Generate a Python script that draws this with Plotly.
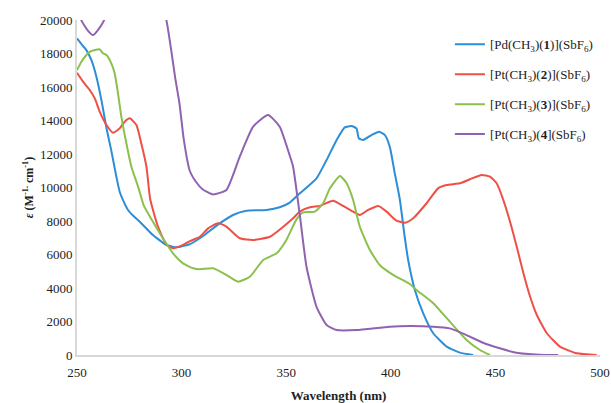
import plotly.graph_objects as go

# Wavelength (nm) / molar absorptivity values
pd1_wl = [250, 252.5, 254.5, 256.9, 259.3, 261.7, 264, 266.4, 268.8, 270.4, 272, 274.4, 277, 280, 286.3,
          292.8, 297.5, 300.5, 303.9, 308.7, 311.9, 318.2, 324.6, 331, 340.6, 346.9, 351.7, 356.5,
          364.5, 369.3, 374.1, 378, 381.2, 383.6, 384.7, 386.8, 390.8, 394.4, 397.2, 399.5, 401.9,
          404.3, 406.7, 408.3, 411.5, 415.5, 420.3, 426.7, 433, 439.4]
pd1_eps = [18900, 18500, 18200, 17600, 16600, 15200, 13600, 12200, 10650, 9750, 9250, 8660, 8300, 7960, 7160,
           6570, 6430, 6500, 6610, 6970, 7260, 7860, 8360, 8610, 8660, 8820, 9100, 9650,
           10550, 11640, 12840, 13590, 13670, 13530, 12940, 12840, 13130, 13330, 13130, 12440, 10850,
           9300, 7000, 5670, 3880, 2490, 1300, 500, 140, 0]

pt2_wl = [250, 252.9, 256.1, 258.5, 260.9, 264.1, 267.2, 270.4, 272.8, 275.2, 278.4, 280.8, 283.2, 285,
          288.7, 292.8, 295.9, 300.7, 304, 308.7, 312.7, 317.4, 321.4, 327.8, 334.2, 342.2, 348.6,
          353.3, 356.5, 361.3, 366.1, 372.4, 377.2, 382, 385.2, 389.2, 394, 398, 402.7, 407, 410.7,
          417.1, 422.6, 426.7, 433, 437.8, 443.4, 447.4, 450.6, 453.8, 457, 460.2, 463.4, 466.6,
          469.8, 474.6, 480.9, 488.9, 498.4]
pt2_eps = [16850, 16320, 15820, 15320, 14520, 13730, 13270, 13530, 13930, 14130, 13730, 12600, 11240, 9300,
           7660, 6570, 6370, 6570, 6800, 7060, 7560, 7860, 7660, 6970, 6870, 7060, 7660,
           8160, 8560, 8820, 8900, 9210, 8900, 8560, 8360, 8660, 8900, 8560, 8020, 7900, 8160,
           9060, 9950, 10150, 10250, 10490, 10750, 10650, 10250, 9250, 7960, 6470, 4880, 3480,
           2390, 1300, 500, 100, 0]

pt3_wl = [250, 252.1, 254.5, 256.1, 258.5, 260.9, 262.4, 264.1, 266.4, 268, 269.6, 271.2, 273.6, 276,
          279.2, 282, 286.3, 291.1, 295.9, 300.7, 305.5, 308.7, 315, 321.4, 327, 332.6, 339, 345.4,
          350.1, 354.9, 358.1, 363.7, 367.7, 370.9, 375.7, 378.9, 382, 385.2, 390, 394.7, 401.1,
          409.1, 412.3, 420.3, 428.2, 436.2, 442.6, 447.4]
pt3_eps = [17010, 17510, 17910, 18100, 18210, 18250, 18010, 17910, 17410, 16820, 15620, 14230, 12640, 11240,
           10050, 8900, 7960, 6970, 6070, 5470, 5180, 5120, 5180, 4780, 4380, 4670, 5670, 6070,
           6870, 8100, 8520, 8560, 9060, 9950, 10690, 10250, 9250, 7660, 6270, 5370, 4780,
           4240, 3880, 3090, 1990, 900, 300, 0]

pt4_wl = [250, 252, 255, 257.7, 260, 263, 268, 285, 292.7, 297, 299, 301, 303.9, 307.1, 310, 315, 321.4,
          327.8, 334.2, 341.3, 346.9, 351.7, 353.3, 356.5, 359.7, 364.5, 369.3, 374.1, 383.6, 399.5,
          409.1, 420.3, 428.2, 436.2, 444.1, 452.1, 460, 471, 480]
pt4_eps = [21500, 20000, 19400, 19100, 19400, 20000, 23000, 23000, 20000, 16500, 15000, 12900, 11000, 10300,
           9900, 9590, 9850, 11840, 13630, 14330, 13630, 11900, 11240, 8360, 5270, 2880, 1790, 1490,
           1490, 1690, 1730, 1690, 1590, 1190, 730, 400, 140, 20, 0]

names = ["[Pd(CH<sub>3</sub>)(<b>1</b>)](SbF<sub>6</sub>)",
         "[Pt(CH<sub>3</sub>)(<b>2</b>)](SbF<sub>6</sub>)",
         "[Pt(CH<sub>3</sub>)(<b>3</b>)](SbF<sub>6</sub>)",
         "[Pt(CH<sub>3</sub>)(<b>4</b>](SbF<sub>6</sub>)"]
colors = ["#2C8ED6", "#EE5046", "#8CC04C", "#8F63B0"]
x_ticks = [250, 300, 350, 400, 450, 500]
y_ticks = list(range(0, 20001, 2000))

series = [(pd1_wl, pd1_eps), (pt2_wl, pt2_eps), (pt3_wl, pt3_eps), (pt4_wl, pt4_eps)]

fig = go.Figure()
for i, ((xs, ys), nm, c) in enumerate(zip(series, names, colors)):
    fig.add_trace(go.Scatter(x=xs, y=ys, mode="lines", name=nm, legendgroup=f"g{i}",
                             line=dict(color=c, width=2, shape="spline", smoothing=0.5)))

font_family = "Liberation Serif, Times New Roman, DejaVu Serif, serif"
fig.update_layout(
    width=611, height=403,
    margin=dict(l=77, r=11, t=20, b=48),
    paper_bgcolor="white", plot_bgcolor="white",
    font=dict(family=font_family, size=13, color="#222"),
    showlegend=True,
    legend=dict(x=0.713, y=0.972, xanchor="left", yanchor="top",
                font=dict(family=font_family, size=13, color="#222"),
                tracegroupgap=10, bgcolor="rgba(0,0,0,0)", itemwidth=30),
    xaxis=dict(range=[250, 500], tickvals=x_ticks, ticktext=[str(v) for v in x_ticks],
               showgrid=False, zeroline=False, showline=True, linecolor="#D9D9D9", linewidth=2,
               ticks="", tickfont=dict(family=font_family, size=13), automargin=False,
               ticklabelstandoff=4,
               title=dict(text="<b>Wavelength (nm)</b>", font=dict(family=font_family, size=13), standoff=14)),
    yaxis=dict(range=[0, 20000], tickvals=y_ticks, ticktext=[str(v) for v in y_ticks],
               showgrid=False, zeroline=False, showline=True, linecolor="#D9D9D9", linewidth=2,
               ticks="", tickfont=dict(family=font_family, size=13), automargin=False,
               title=dict(text="<b><i>ε</i> (M<sup>-1.</sup> cm<sup>-1</sup>)</b>",
                          font=dict(family=font_family, size=12), standoff=4)),
)

fig.write_html("out.html", config={"displayModeBar": False},
               post_script="document.body.style.margin='0';document.body.style.padding='0';")
